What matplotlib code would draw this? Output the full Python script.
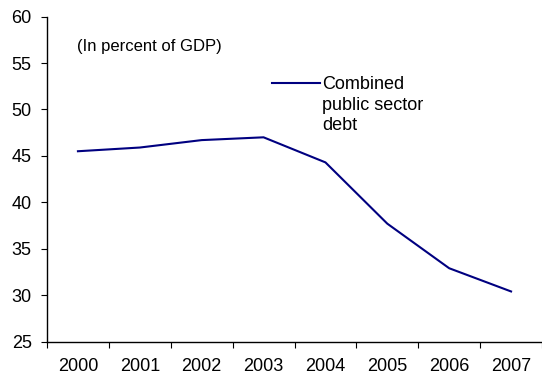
import matplotlib.pyplot as plt
import numpy as np

plt.rcParams['font.family'] = ['Liberation Sans', 'DejaVu Sans']

years = ['2000', '2001', '2002', '2003', '2004', '2005', '2006', '2007']
debt = [45.5, 45.9, 46.7, 47.0, 44.3, 37.7, 32.9, 30.4]
series_label = 'Combined'
series_label_rest = 'public sector\ndebt'
note = '(In percent of GDP)'

fig = plt.figure(figsize=(5.42, 3.79), dpi=100)
ax = fig.add_axes([47 / 542, 1 - 341.6 / 379, 495 / 542, 325 / 379])

x = np.arange(len(years))
ax.plot(x, debt, color='#000080', lw=1.5, label=series_label)

ax.set_xlim(-0.5, len(years) - 0.5)
ax.set_ylim(25, 60)
ax.set_yticks(np.arange(25, 61, 5))
ax.set_xticks(x)
ax.set_xticklabels(years)
ax.set_xticks(np.arange(-0.5, len(years), 1), minor=True)

ax.tick_params(axis='x', which='major', length=0, pad=12, labelsize=13)
ax.tick_params(axis='x', which='minor', length=4, width=0.8, direction='out')
ax.tick_params(axis='y', length=4, width=0.8, direction='out', pad=7, labelsize=13)

for s in ['top', 'right']:
    ax.spines[s].set_visible(False)
for s in ['left', 'bottom']:
    ax.spines[s].set_linewidth(1)

ax.text(0.061, 0.908, note, transform=ax.transAxes, fontsize=12, va='center', ha='left')

# legend: handle next to first line, rest of the label as plain text below
ax.legend(loc='center left', bbox_to_anchor=(0.4545, 0.79), frameon=False,
          fontsize=13, handlelength=2.66, handletextpad=0.11,
          borderaxespad=0, borderpad=0)
# multiline text with baseline alignment sits on the last line's baseline
ax.text(0.5556, 0.652, series_label_rest, transform=ax.transAxes, fontsize=13,
        va='baseline', ha='left', linespacing=1.2)

fig.savefig('out.png', dpi=100)
